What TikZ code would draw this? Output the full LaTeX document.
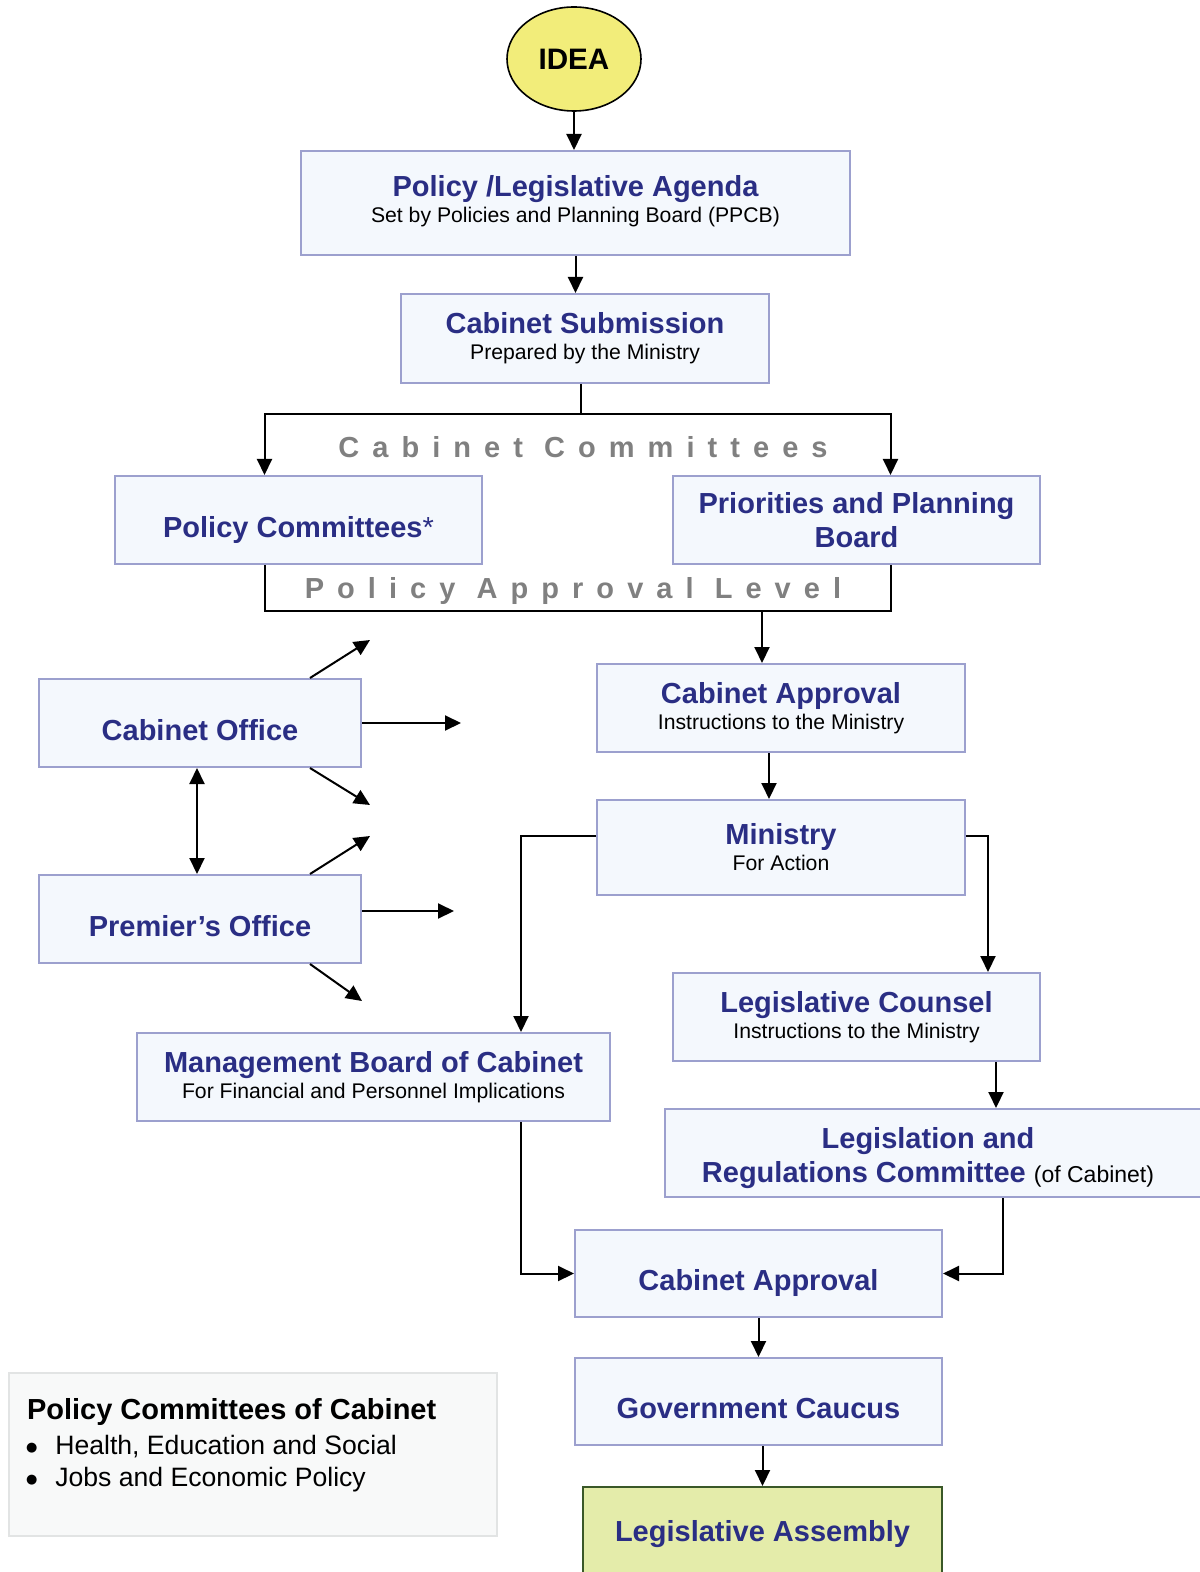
\documentclass[tikz,border=0pt]{standalone}
\usepackage{fontspec}
\setmainfont{Liberation Sans}
\newfontfamily\dotfont{DejaVu Sans}
\usetikzlibrary{arrows.meta,positioning,shapes.geometric}

\definecolor{ttlblue}{RGB}{42,46,132}
\definecolor{boxline}{RGB}{156,160,206}
\definecolor{boxfill}{RGB}{244,248,253}
\definecolor{ideafill}{RGB}{242,237,122}
\definecolor{lafill}{RGB}{228,236,170}
\definecolor{laline}{RGB}{58,88,40}
\definecolor{levelgray}{RGB}{128,128,128}
\definecolor{notefill}{RGB}{248,249,249}
\definecolor{noteline}{RGB}{226,228,228}

\newcommand{\ttl}[1]{{\color{ttlblue}\bfseries\fontsize{14.5}{17}\selectfont #1}}
\newcommand{\notebullet}{\hspace*{-0.5pt}\raisebox{1.2pt}{\dotfont\fontsize{6.5}{7}\selectfont ●}\hspace{9pt}}

\tikzset{
  stepbox/.style 2 args={
    draw=boxline, fill=boxfill, line width=1pt,
    inner sep=0pt, align=center,
    minimum width=#1, minimum height=#2,
    font=\fontsize{10.6}{13}\selectfont
    },
  ttlbox/.style 2 args={
    stepbox={#1}{#2},
    font=\bfseries\fontsize{14.5}{17}\selectfont,
    text=ttlblue
    },
  oneline/.style={text height=17.4pt, text depth=0pt},
  levellabel/.style={
    text=levelgray,
    font=\bfseries\fontsize{14.5}{17}\selectfont\addfontfeature{LetterSpace=45}
    }
}

\begin{document}
\begin{tikzpicture}[x=0.5pt,y=-0.5pt,line width=1pt,
  >={Triangle[length=8pt,width=7.5pt]}]

\useasboundingbox (0,0) rectangle (1199,1572);

\node[ellipse,draw=black,fill=ideafill,line width=0.8pt,
  minimum width=67pt,minimum height=52pt,inner sep=0pt,
  font=\bfseries\fontsize{14.8}{17}\selectfont]
  (idea) at (574,59) {IDEA};

\node[stepbox={274.5pt}{52pt}] (agenda) at (575.5,203)
  {\ttl{Policy /Legislative Agenda}\\Set by Policies and Planning Board (PPCB)\rule[-4pt]{0pt}{1pt}};

\node[stepbox={184pt}{44.5pt}] (submit) at (585,338.5)
  {\ttl{Cabinet Submission}\\Prepared by the Ministry};

\node[levellabel] (cabcom) at (583,447) {Cabinet Committees};

\node[ttlbox={183.5pt}{44pt},oneline] (polcom) at (298.5,520)
  {Policy Committees\textmd{*}};

\node[ttlbox={183.5pt}{44pt}] (ppb) at (856.5,520)
  {Priorities and Planning\\Board};

\node[levellabel] (pal) at (573,591) {Policy Approval Level};

\node[stepbox={184pt}{44pt}] (approve1) at (781,708)
  {\ttl{Cabinet Approval}\\Instructions to the Ministry};

\node[stepbox={184pt}{47.5pt}] (ministry) at (781,847.5)
  {\ttl{Ministry}\\For Action};

\node[stepbox={183.5pt}{44pt}] (counsel) at (856.5,1017)
  {\ttl{Legislative Counsel}\\Instructions to the Ministry};

\node[ttlbox={272.5pt}{44pt}] (lrc) at (937.5,1153)
  {\rule{0pt}{16pt}Legislation and\hspace*{9.5pt}\\Regulations Committee
   {\mdseries\color{black}\fontsize{11.5}{17}\selectfont(of Cabinet)}\hspace*{9.5pt}};

\node[stepbox={236.5pt}{44pt}] (mbc) at (373.5,1077)
  {\ttl{Management Board of Cabinet}\\For Financial and Personnel Implications};

\node[ttlbox={183.5pt}{43.5pt},oneline] (approve2) at (758.5,1273.5)
  {Cabinet Approval};

\node[ttlbox={183.5pt}{43.5pt},oneline] (caucus) at (758.5,1401.5)
  {Government Caucus};

\node[ttlbox={179.5pt}{10pt},draw=laline,fill=lafill,anchor=north,
  text height=27pt,text depth=28pt] (assembly) at (762.5,1486)
  {Legislative Assembly};

\node[ttlbox={161pt}{44pt},oneline] (cabofc) at (200,723) {Cabinet Office};

\node[ttlbox={161pt}{44pt},oneline] (premofc) at (200,919) {Premier’s Office};

\node[draw=noteline,fill=notefill,line width=1pt,
  minimum width=244pt,minimum height=81.5pt] (note) at (253,1454.5) {};
\node[anchor=north west,align=left,inner sep=0pt,
  font=\fontsize{13.3}{16}\selectfont]
  (notetext) at (26,1397)
  {{\bfseries\fontsize{14.5}{17}\selectfont Policy Committees of Cabinet}\\[1.5pt]
   \notebullet Health, Education and Social\\
   \notebullet Jobs and Economic Policy};

% main flow
\draw[->] (idea.south) -- (idea.south |- agenda.north);
\draw[->] (agenda.south) -- (agenda.south |- submit.north);
\draw ([xshift=-2pt]submit.south) -- ++(0,30) coordinate (split);
\draw[->] (split) -| ([xshift=-17pt]polcom.north);
\draw[->] (split) -| ([xshift=17pt]ppb.north);

\draw ([xshift=-17pt]polcom.south) -- ++(0,46) coordinate (joinL)
  -| ([xshift=17pt]ppb.south);
\draw[->] ([xshift=-9.5pt]approve1.north |- joinL)
  -- ([xshift=-9.5pt]approve1.north);

\draw[->] ([xshift=-6pt]approve1.south) -- ([xshift=-6pt]ministry.north);
\draw[->] ([yshift=5.75pt]ministry.west) -| ([xshift=73.75pt]mbc.north);
\draw[->] ([yshift=5.75pt]ministry.east) -| ([xshift=65.75pt]counsel.north);
\draw[->] ([xshift=69.75pt]counsel.south) -- ([xshift=69.75pt]counsel.south |- lrc.north);

\draw[->] ([xshift=73.75pt]mbc.south) |- (approve2.west);
\draw[->] ([xshift=32.75pt]lrc.south) |- (approve2.east);
\draw[->] (approve2.south) -- (approve2.south |- caucus.north);
\draw[->] (caucus.south -| assembly.north) -- (assembly.north);

% offices
\draw[<->] ([xshift=-1.5pt]cabofc.south) -- ([xshift=-1.5pt]premofc.north);

\draw[->] ([xshift=55pt]cabofc.north) -- ++(60,-38) coordinate (cabne);
\draw[->] (cabofc.east) -- ++(99,0) coordinate (cabe);
\draw[->] ([xshift=55pt]cabofc.south) -- ++(60,37) coordinate (cabse);

\draw[->] ([xshift=55pt]premofc.north) -- ++(60,-38) coordinate (premne);
\draw[->] ([yshift=4pt]premofc.east) -- ++(92,0) coordinate (preme);
\draw[->] ([xshift=55pt]premofc.south) -- ++(52,37) coordinate (premse);

\end{tikzpicture}
\end{document}
